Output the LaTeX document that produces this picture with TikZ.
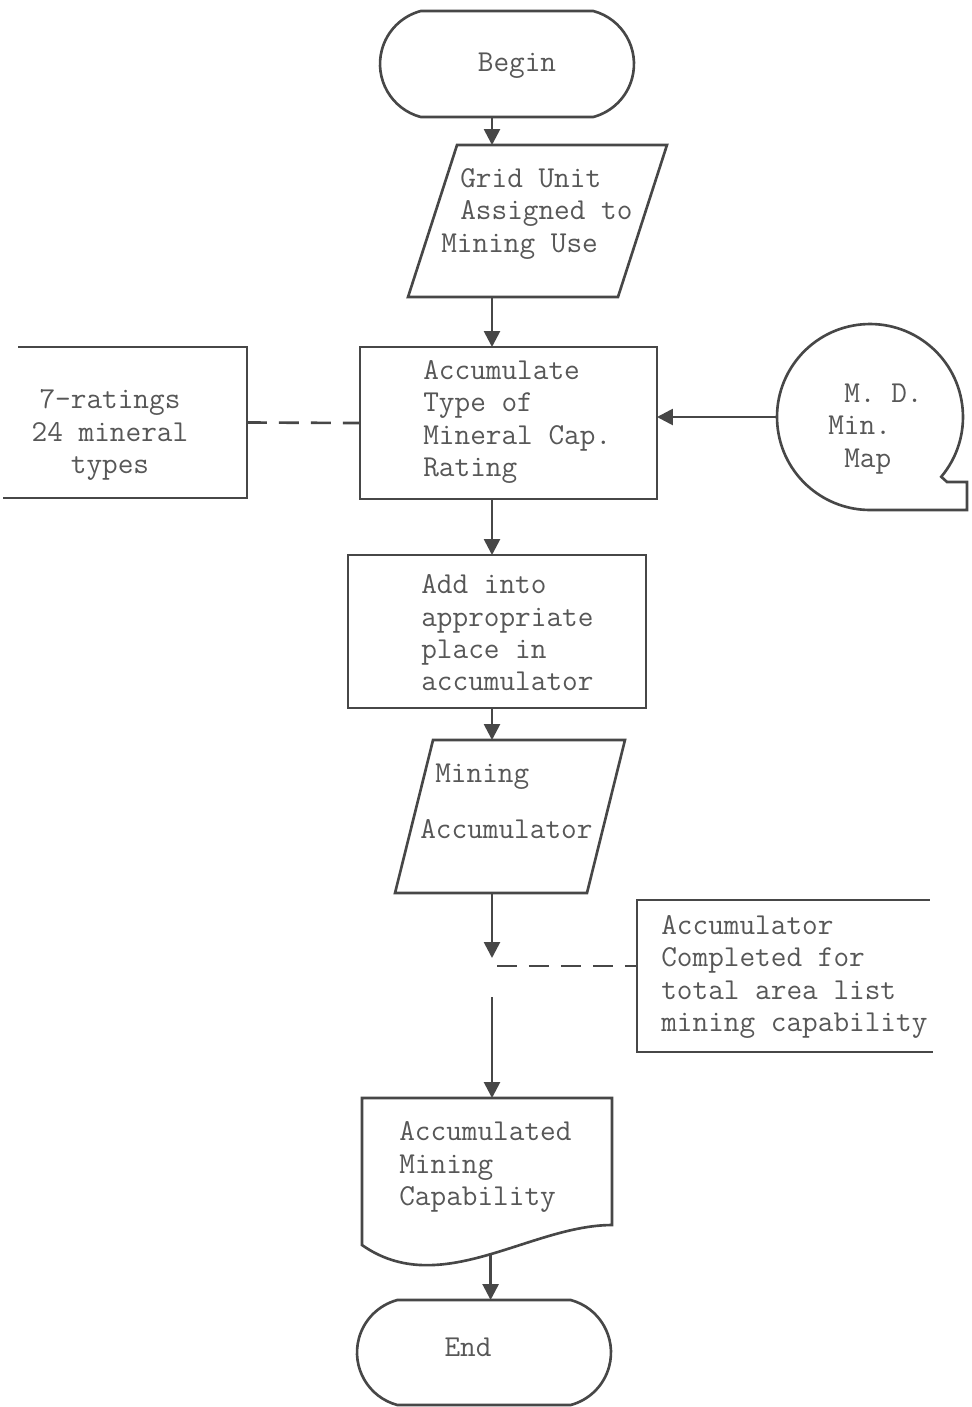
\documentclass[tikz,border=0pt]{standalone}
\usetikzlibrary{arrows.meta,shapes.misc,calc}
\definecolor{ink}{HTML}{474747}
\definecolor{txt}{HTML}{575757}
\begin{document}
\begin{tikzpicture}[x=0.02cm,y=-0.02cm,
  line width=1.5pt,
  color=ink,
  frame/.style={inner sep=0pt,outer sep=0pt,draw=none},
  boxed/.style={frame,draw=ink},
  term/.style={frame,draw=ink,rounded rectangle,rounded rectangle arc length=150,
    minimum width=5.08cm,minimum height=2.12cm},
  lbl/.style={inner sep=0pt,text=txt,align=left,
    font=\fontsize{17.3}{18.4}\selectfont\ttfamily},
  arr/.style={-{Triangle[length=0.32cm,width=0.32cm]}},
  dashline/.style={dash pattern=on 0.4cm off 0.24cm}]
\useasboundingbox (0,0) rectangle (971,1407);

% flow shapes
\node[term] (begin) at (507,64) {};
\node[frame,minimum width=5.18cm,minimum height=3.04cm] (grid) at (537.5,221) {};
\draw ($(grid.north west)+(49,0)$) -- (grid.north east)
   -- ($(grid.south east)+(-49,0)$) -- (grid.south west) -- cycle;
\node[boxed,minimum width=5.94cm,minimum height=3.04cm] (accum) at (508.5,423) {};
\node[frame,minimum width=4.88cm,minimum height=3.02cm] (ratings) at (125,422.5) {};
\draw ($(ratings.north west)+(15,0)$) -- (ratings.north east)
   -- (ratings.south east) -- (ratings.south west);
\node[frame,circle,minimum size=3.72cm] (map) at (870,417) {};
\draw (map.south) -- ++(97,0) -- ++(0,-28) -- ++(-20,0) -- (map.320)
   arc[start angle=-40,end angle=270,radius=1.86cm];
\node[boxed,minimum width=5.96cm,minimum height=3.06cm] (add) at (497,631.5) {};
\node[frame,minimum width=4.6cm,minimum height=3.06cm] (mining) at (510,816.5) {};
\draw ($(mining.north west)+(38,0)$) -- (mining.north east)
   -- ($(mining.south east)+(-38,0)$) -- (mining.south west) -- cycle;
\node[frame,minimum width=5.92cm,minimum height=3.04cm] (note) at (785,976) {};
\draw ($(note.north east)+(-3,0)$) -- (note.north west)
   -- (note.south west) -- (note.south east);
\node[frame,minimum width=5.0cm,minimum height=3.34cm] (doc) at (487,1181.5) {};
\draw (doc.north west) -- (doc.north east) -- ($(doc.north east)+(0,127)$)
   .. controls (530,1225) and (440,1300) .. node[coordinate,pos=0.48] (docw) {}
   ($(doc.north west)+(0,147)$) -- cycle;
\node[term,minimum height=2.1cm] (end) at (484,1352.5) {};

% texts
\node[lbl] (begin-l) at (517,66) {Begin};
\node[lbl,anchor=west] (grid-l) at (440,214)
  {\hspace*{0.38cm}Grid Unit\\\hspace*{0.38cm}Assigned to\\Mining Use};
\node[lbl,anchor=west] (accum-l) at (422,422)
  {Accumulate\\Type of\\Mineral Cap.\\Rating};
\node[lbl,align=center] (ratings-l) at (110,435) {7-ratings\\24 mineral\\types};
\node[lbl,anchor=west] (map-l) at (827,429)
  {\hspace*{0.32cm}M. D.\\Min.\\\hspace*{0.32cm}Map};
\node[lbl,anchor=west] (add-l) at (420,633)
  {Add into\\appropriate\\place in\\accumulator};
\node[lbl,anchor=west] (mining-a) at (434,777) {Mining};
\node[lbl,anchor=west] (mining-b) at (419,829) {Accumulator};
\node[lbl,anchor=west] (note-l) at (660,977)
  {Accumulator\\Completed for\\total area list\\mining capability};
\node[lbl,anchor=west] (doc-l) at (398,1167) {Accumulated\\Mining\\Capability};
\node[lbl] (end-l) at (468,1347) {End};

% connectors
\coordinate (spine) at (492,0);
\coordinate (gapA) at (492,958);
\coordinate (gapB) at (492,997);
\coordinate (gapC) at (497,966);
\draw[arr] (begin.south -| spine) -- (grid.north -| spine);
\draw[arr] (grid.south -| spine) -- (accum.north -| spine);
\draw[arr] (accum.south -| spine) -- (add.north -| spine);
\draw[arr] (add.south -| spine) -- (mining.north -| spine);
\draw[arr] (mining.south -| spine) -- (gapA);
\draw[arr] (gapB) -- (doc.north -| spine);
\draw[arr] (docw) -- (docw |- end.north);
\draw[arr] (map.west) -- (map.west -| accum.east);
\draw[dashline] (ratings.east) -- (accum.west);
\draw[dashline] (gapC) -- (gapC -| note.west);
\end{tikzpicture}
\end{document}
